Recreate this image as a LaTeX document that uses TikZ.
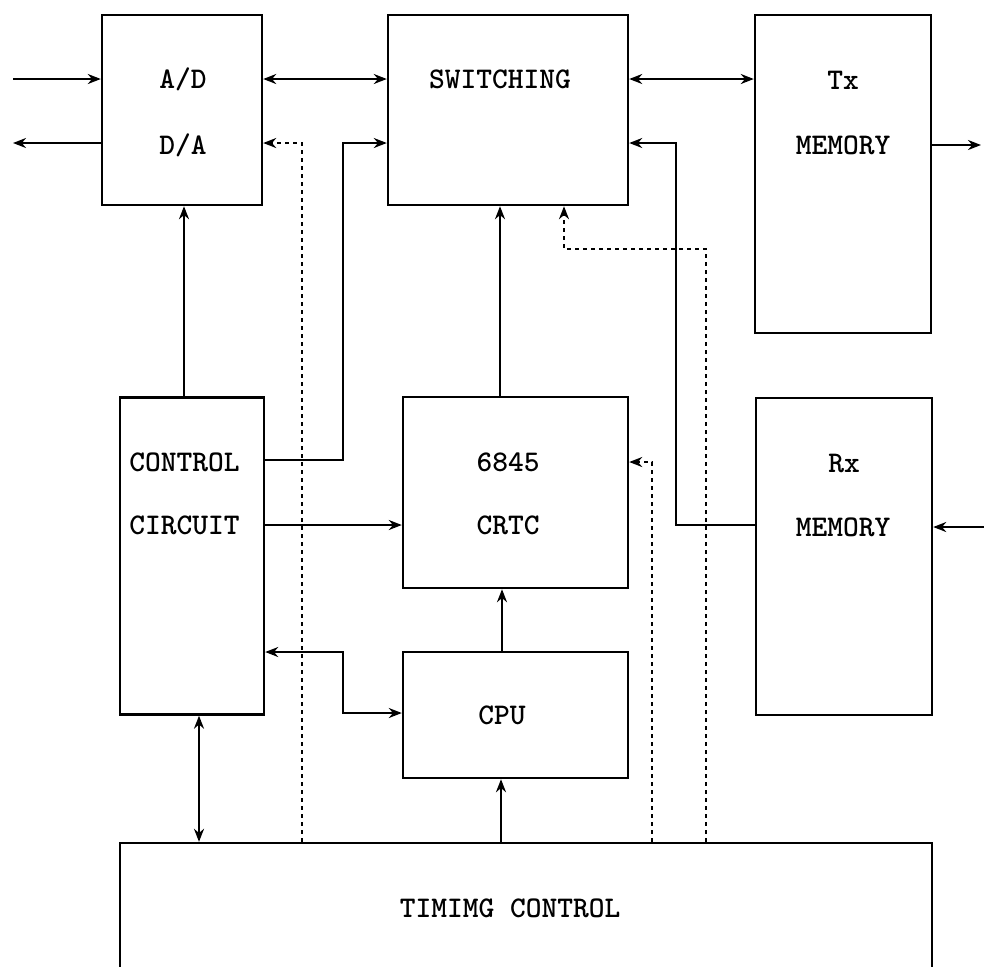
\documentclass[tikz,border=0pt]{standalone}
\usetikzlibrary{arrows.meta}
\begin{document}
\begin{tikzpicture}[
        x=0.5pt, y=-0.5pt,
        blk/.style={
            rectangle, draw=black, line width=1.2pt,
            inner sep=0pt
        },
        lbl/.style={
            font=\fontsize{15}{18}\selectfont\ttfamily\bfseries,
            inner sep=0pt
        },
        arr/.style={-{Stealth[length=6.5pt,width=5pt]}, line width=1.2pt},
        darr/.style={{Stealth[length=6.5pt,width=5pt]}-{Stealth[length=6.5pt,width=5pt]}, line width=1.2pt},
        dotarr/.style={arr, dash pattern=on 2pt off 2pt}
    ]
    \useasboundingbox (0,0) rectangle (984,966);

    % Top row
    \node[blk, minimum width=80pt, minimum height=95pt] (ad) at (182,110) {};
    \node[lbl] (adT) at (183,79) {A/D};
    \node[lbl] (daT) at (183,145) {D/A};

    \node[blk, minimum width=120pt, minimum height=95pt] (sw) at (508,110) {};
    \node[lbl] (swT) at (500,79) {SWITCHING};

    \node[blk, minimum width=88pt, minimum height=159pt] (tx) at (843,174) {};
    \node[lbl] (txT) at (843,80) {Tx};
    \node[lbl] (txM) at (843,145) {MEMORY};

    % Middle row
    \node[blk, minimum width=72pt, minimum height=158.5pt] (cc) at (192,556) {};
    \node[lbl, anchor=west] (ccT) at (129,462) {CONTROL};
    \node[lbl, anchor=west] (ccC) at (129,525) {CIRCUIT};

    \node[blk, minimum width=112.5pt, minimum height=95.5pt] (crtc) at (515.5,492.5) {};
    \node[lbl] (crT) at (508,462) {6845};
    \node[lbl] (crC) at (508,525) {CRTC};

    \node[blk, minimum width=88pt, minimum height=158.5pt] (rx) at (844,556.5) {};
    \node[lbl] (rxT) at (844,463) {Rx};
    \node[lbl] (rxM) at (843,527) {MEMORY};

    \node[blk, minimum width=112.5pt, minimum height=63pt] (cpu) at (515.5,715) {};
    \node[lbl] (cpuT) at (502,715) {CPU};

    % Timing block (runs off the page)
    \node[blk, minimum width=406pt, minimum height=66pt] (tim) at (526,909) {};
    \node[lbl] (timT) at (510,908) {TIMIMG CONTROL};

    % Free ends and bends
    \coordinate (adIn)  at (13,79);
    \coordinate (adOut) at (13,143);
    \coordinate (txOut) at (981,145);
    \coordinate (rxIn)  at (992,527);
    \coordinate (rxB)   at (676,525);
    \coordinate (ccB)   at (343,460);
    \coordinate (cpuB)  at (343,652);
    \coordinate (dA)    at (302,143);
    \coordinate (dC)    at (652,462);
    \coordinate (dS1)   at (706,249);
    \coordinate (dS2)   at (564,249);

    % Outside signals
    \draw[arr] (adIn) -- (adIn -| ad.west);
    \draw[arr] (adOut -| ad.west) -- (adOut);
    \draw[arr] (txOut -| tx.east) -- (txOut);
    \draw[arr] (rxIn) -- (rxIn -| rx.east);

    % Data paths
    \draw[darr] (ad.east |- 0,79) -- (sw.west |- 0,79);
    \draw[darr] (sw.east |- 0,79) -- (tx.west |- 0,79);
    \draw[arr] (rxB -| rx.west) -- (rxB) -- (rxB |- 0,143) -- (sw.east |- 0,143);
    \draw[arr] (ccB -| cc.east) -- (ccB) -- (ccB |- 0,143) -- (sw.west |- 0,143);
    \draw[arr] (cc.east |- 0,525) -- (crtc.west |- 0,525);
    \draw[arr] (cc.north -| 184,0) -- (ad.south -| 184,0);
    \draw[arr] (crtc.north -| 500,0) -- (sw.south -| 500,0);
    \draw[arr] (cpu.north -| 502,0) -- (crtc.south -| 502,0);
    \draw[arr] (tim.north -| 501,0) -- (cpu.south -| 501,0);
    \draw[darr] (cpuB -| cc.east) -- (cpuB) -- (cpuB |- 0,713) -- (cpu.west |- 0,713);
    \draw[darr] (cc.south -| 199,0) -- (tim.north -| 199,0);

    % Timing lines
    \draw[dotarr] (tim.north -| dA) -- (dA) -- (ad.east |- dA);
    \draw[dotarr] (tim.north -| dC) -- (dC) -- (crtc.east |- dC);
    \draw[dotarr] (tim.north -| dS1) -- (dS1) -- (dS2) -- (sw.south -| dS2);

\end{tikzpicture}
\end{document}
